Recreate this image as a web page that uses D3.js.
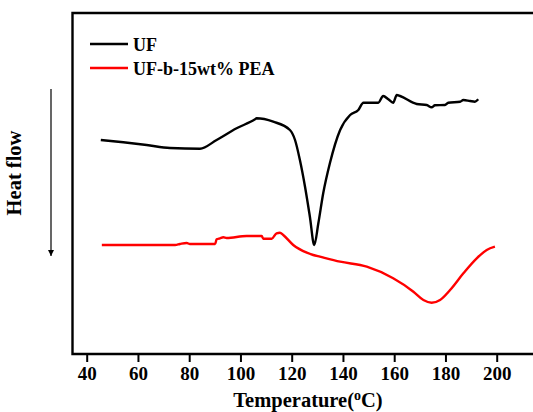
<!DOCTYPE html>
<html lang="en">
<head>
<meta charset="UTF-8">
<title>DSC</title>
<script src="https://d3js.org/d3.v7.min.js"></script>
<style>
  body { margin: 0; background: #fff; }
  text { font-family: "Liberation Serif", "Times New Roman", serif; font-weight: bold; }
</style>
</head>
<body>
<svg width="533" height="412"></svg>
<script>
// temperature (oC) and heat flow (arbitrary units, endo down)
var ufT = [45.5, 54.3, 63.4, 72.5, 84.2, 90.7, 98.5, 105.7, 106.3, 112.8, 119.3, 121.3, 123.2, 125.2, 127.1, 128.8,
           130.4, 132.3, 134.9, 138.9, 142.8, 146.0, 148.0, 153.8, 155.7, 157.7, 159.6, 161.0, 162.3, 168.8, 172.7,
           174.6, 175.9, 179.8, 181.1, 185.7, 187.0, 189.6, 191.5, 192.8];
var ufHF = [214, 211.7, 209, 206, 205.3, 214, 225.7, 234.7, 235.7, 232.3, 224, 214, 194, 167.3, 137.3, 109,
            130.7, 160.7, 190.7, 224, 239, 244, 251.3, 251.3, 258, 254.7, 251.3, 259, 258, 250, 249,
            246.7, 248.7, 249, 251.3, 252.3, 254, 253, 252.3, 254.7];

var peaT = [45.9, 74.5, 76.4, 79.0, 80.3, 90.1, 90.7, 92.0, 93.3, 94.6, 102.4, 108.3, 108.9, 112.2, 114.1, 115.4,
            116.7, 120.6, 125.9, 128.4, 131.0, 138.9, 149.3, 159.6, 167.5, 171.4, 174.6, 177.9, 181.8, 187.0,
            192.2, 196.1, 199.3];
var peaHF = [109, 109, 110, 111, 110, 110, 114.7, 115.7, 116.7, 116, 118, 118, 115.3, 115.3, 120.7, 121.3,
             119, 109, 101.3, 99, 97.3, 92.3, 87.3, 75.7, 62.3, 54, 51.3, 54, 64, 80.7,
             95.7, 104, 107.3];

var xTicks = [40, 60, 80, 100, 120, 140, 160, 180, 200];
var seriesNames = ['UF', 'UF-b-15wt% PEA'];
var seriesColors = ['#000000', '#ff0000'];

var svg = d3.select('svg');
var W = 533, plotTop = 13, plotBottom = 354, plotLeft = 72.5;

var x = d3.scaleLinear().domain([40, 200]).range([86.7, 496.7]);
var y = d3.scaleLinear().domain([0, 341]).range([plotBottom, plotTop]);

// frame (right side runs off the picture)
svg.append('path')
    .attr('d', 'M' + (W + 5) + ',' + plotTop + 'H' + plotLeft + 'V' + plotBottom + 'H' + (W + 5))
    .attr('fill', 'none').attr('stroke', '#000').attr('stroke-width', 2.4);

// x axis ticks
var ax = svg.append('g').attr('transform', 'translate(0,' + plotBottom + ')')
    .call(d3.axisBottom(x).tickValues(xTicks).tickSize(8).tickPadding(5).tickFormat(d3.format('d')));
ax.select('.domain').remove();
ax.selectAll('line').attr('stroke-width', 2);
ax.selectAll('text').attr('font-size', 19).attr('font-family', '"Liberation Serif", serif')
    .attr('font-weight', 'bold').attr('fill', '#000');

// x title
var xt = svg.append('text').attr('x', 308).attr('y', 407).attr('text-anchor', 'middle').attr('font-size', 20.5);
xt.append('tspan').text('Temperature(');
xt.append('tspan').attr('dy', -7).attr('font-size', 14).text('o');
xt.append('tspan').attr('dy', 7).text('C)');

// y title + arrow
svg.append('text').attr('transform', 'translate(21,173) rotate(-90)')
    .attr('text-anchor', 'middle').attr('font-size', 20.5).text('Heat flow');
svg.append('defs').append('marker').attr('id', 'ah')
    .attr('viewBox', '0 0 10 10').attr('refX', 10).attr('refY', 5)
    .attr('markerWidth', 5).attr('markerHeight', 8).attr('orient', 'auto')
    .append('path').attr('d', 'M0,0L10,5L0,10Z').attr('fill', '#000');
svg.append('line').attr('x1', 51).attr('y1', 89).attr('x2', 51).attr('y2', 256)
    .attr('stroke', '#000').attr('stroke-width', 1.2).attr('marker-end', 'url(#ah)');

// curves
var line = d3.line().x(function (d) { return x(d[0]); }).y(function (d) { return y(d[1]); })
    .curve(d3.curveMonotoneX);
var sets = [d3.zip(ufT, ufHF), d3.zip(peaT, peaHF)];
svg.selectAll('.curve').data(sets).enter().append('path')
    .attr('class', 'curve')
    .attr('d', line)
    .attr('fill', 'none')
    .attr('stroke', function (d, i) { return seriesColors[i]; })
    .attr('stroke-width', 2.4)
    .attr('stroke-linejoin', 'round');

// legend
var lg = svg.selectAll('.lg').data(seriesNames).enter().append('g')
    .attr('class', 'lg')
    .attr('transform', function (d, i) { return 'translate(90,' + (44 + i * 24) + ')'; });
lg.append('line').attr('x1', 0).attr('x2', 38).attr('y1', 0).attr('y2', 0)
    .attr('stroke', function (d, i) { return seriesColors[i]; }).attr('stroke-width', 2.4);
lg.append('text').attr('x', 43).attr('y', 6.5).attr('font-size', 18).text(function (d) { return d; });
</script>
</body>
</html>
